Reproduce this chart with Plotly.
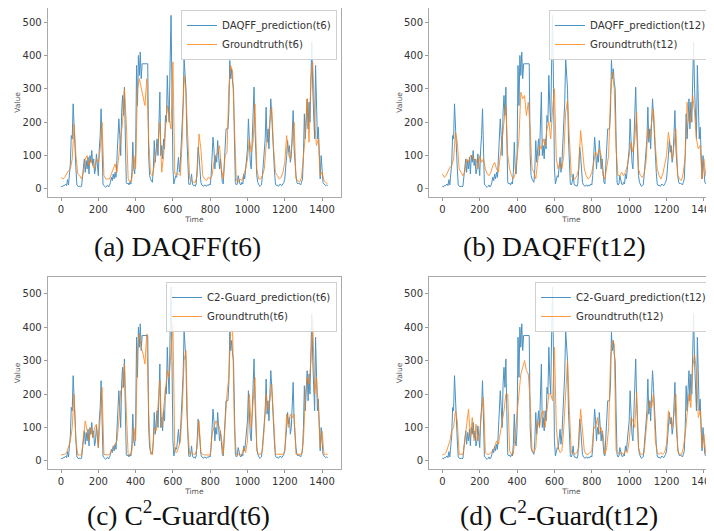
import plotly.graph_objects as go

# ---------------- data ----------------
time5 = list(range(0, 1431, 5))
time10 = list(range(0, 1431, 10))

prediction = [
    8, 6, 10, 9, 12, 15, 10, 28, 12, 40,
    75, 160, 150, 255, 170, 140, 60, 12, 8, 6,
    9, 7, 8, 30, 55, 90, 50, 85, 60, 95,
    45, 100, 80, 115, 70, 90, 45, 60, 105, 70,
    40, 120, 160, 240, 60, 15, 10, 8, 5, 8,
    12, 6, 10, 20, 35, 25, 45, 30, 50, 35,
    90, 130, 210, 160, 100, 230, 280, 220, 305, 150,
    20, 15, 18, 12, 20, 15, 50, 140, 60, 45,
    100, 370, 250, 400, 340, 410, 330, 375, 375, 375,
    375, 375, 375, 375, 100, 40, 30, 25, 20, 60,
    145, 80, 120, 150, 100, 180, 290, 100, 130, 90,
    150, 120, 220, 200, 340, 250, 200, 380, 520, 300,
    60, 15, 25, 40, 35, 60, 95, 50, 80, 140,
    200, 260, 390, 330, 300, 150, 40, 15, 12, 20,
    45, 15, 10, 12, 8, 15, 60, 125, 100, 60,
    20, 12, 10, 8, 12, 10, 8, 12, 10, 15,
    12, 40, 100, 155, 120, 60, 100, 80, 145, 100,
    60, 90, 40, 20, 15, 60, 100, 180, 180, 180,
    230, 385, 330, 360, 320, 300, 150, 20, 12, 15,
    40, 20, 15, 12, 20, 15, 45, 30, 60, 90,
    120, 210, 140, 80, 60, 150, 200, 305, 180, 100,
    40, 20, 12, 8, 10, 12, 40, 80, 100, 150,
    245, 140, 180, 120, 200, 270, 220, 150, 100, 50,
    15, 10, 12, 8, 10, 15, 12, 10, 15, 20,
    30, 60, 100, 145, 110, 130, 80, 100, 150, 235,
    120, 60, 40, 20, 15, 18, 15, 12, 20, 30,
    100, 225, 150, 200, 270, 180, 260, 200, 350, 440,
    300, 200, 150, 370, 250, 150, 185, 80, 30, 100,
    60, 20, 15, 12, 10, 12, 10,
]

truth_daqff_t6 = [
    35, 30, 35, 45, 55, 60, 90, 195, 100, 45,
    40, 30, 50, 90, 100, 70, 90, 70, 60, 90,
    80, 120, 200, 40, 30, 30, 30, 45, 60, 75,
    50, 100, 160, 200, 300, 200, 30, 20, 30, 100,
    60, 300, 330, 300, 270, 250, 330, 150, 45, 40,
    70, 110, 130, 200, 50, 100, 180, 250, 210, 180,
    380, 45, 45, 45, 40, 150, 340, 290, 150, 30,
    25, 20, 20, 40, 165, 120, 40, 30, 25, 35,
    30, 40, 80, 100, 110, 130, 60, 30, 100, 110,
    300, 370, 350, 150, 25, 20, 30, 25, 40, 60,
    90, 150, 110, 140, 255, 60, 30, 30, 40, 60,
    130, 150, 200, 245, 120, 50, 40, 30, 35, 50,
    80, 160, 100, 90, 140, 200, 30, 25, 20, 35,
    100, 160, 270, 140, 330, 380, 200, 130, 150, 40,
    50, 25, 20, 15,
]

truth_daqff_t12 = [
    45, 35, 40, 55, 65, 70, 90, 170, 140, 60,
    50, 40, 50, 90, 80, 100, 100, 85, 90, 60,
    100, 80, 90, 60, 45, 40, 50, 70, 80, 60,
    50, 100, 150, 200, 250, 100, 60, 40, 30, 45,
    100, 150, 290, 270, 280, 220, 260, 180, 60, 50,
    30, 80, 130, 120, 150, 130, 180, 200, 150, 240,
    300, 90, 60, 80, 60, 100, 230, 265, 150, 40,
    30, 30, 40, 60, 175, 120, 60, 40, 30, 35,
    50, 80, 110, 100, 120, 100, 40, 30, 60, 100,
    280, 350, 300, 120, 40, 40, 50, 40, 50, 70,
    100, 140, 110, 150, 230, 60, 40, 35, 45, 80,
    180, 150, 200, 240, 130, 60, 40, 30, 45, 70,
    100, 170, 120, 90, 130, 180, 40, 30, 25, 50,
    100, 260, 200, 200, 280, 230, 150, 120, 130, 30,
    90, 40, 30, 30,
]

truth_c2_t6 = [
    18, 18, 20, 25, 40, 60, 100, 200, 60, 18,
    18, 18, 70, 120, 90, 60, 100, 70, 100, 110,
    40, 150, 220, 20, 18, 18, 20, 30, 40, 50,
    60, 120, 210, 220, 290, 150, 18, 18, 30, 100,
    60, 330, 380, 340, 320, 290, 380, 150, 20, 20,
    100, 90, 180, 240, 100, 150, 210, 270, 250, 330,
    410, 30, 25, 40, 60, 150, 300, 330, 90, 20,
    25, 20, 20, 40, 120, 25, 20, 18, 18, 18,
    18, 80, 100, 120, 110, 100, 70, 18, 110, 200,
    250, 390, 390, 100, 18, 20, 18, 20, 40, 25,
    60, 200, 100, 180, 250, 30, 20, 20, 30, 100,
    200, 150, 180, 230, 100, 20, 20, 20, 20, 20,
    30, 140, 100, 140, 130, 140, 20, 20, 20, 20,
    60, 190, 250, 230, 300, 420, 200, 250, 160, 40,
    90, 20, 20, 20,
]

truth_c2_t12 = [
    18, 20, 25, 40, 60, 90, 100, 150, 120, 20,
    20, 20, 60, 100, 155, 70, 130, 60, 110, 60,
    80, 150, 190, 25, 20, 20, 25, 30, 40, 60,
    50, 80, 120, 150, 200, 200, 30, 20, 20, 80,
    120, 200, 260, 280, 300, 270, 260, 180, 30, 25,
    40, 120, 100, 140, 150, 100, 150, 200, 200, 180,
    340, 100, 40, 25, 30, 100, 200, 300, 150, 25,
    25, 20, 25, 40, 155, 100, 30, 20, 20, 25,
    30, 100, 100, 130, 80, 100, 80, 20, 40, 100,
    300, 360, 350, 30, 25, 20, 25, 20, 30, 25,
    60, 130, 120, 100, 205, 40, 20, 20, 25, 80,
    150, 180, 160, 200, 60, 25, 20, 25, 20, 25,
    50, 150, 120, 100, 140, 200, 30, 20, 20, 40,
    80, 130, 200, 160, 280, 320, 270, 130, 150, 40,
    80, 20, 20, 20,
]

panels = [
    ("DAQFF_prediction(t6)", "Groundtruth(t6)", truth_daqff_t6, "(a) DAQFF(t6)"),
    ("DAQFF_prediction(t12)", "Groundtruth(t12)", truth_daqff_t12, "(b) DAQFF(t12)"),
    ("C2-Guard_prediction(t6)", "Groundtruth(t6)", truth_c2_t6, "(c) C<sup>2</sup>-Guard(t6)"),
    ("C2-Guard_prediction(t12)", "Groundtruth(t12)", truth_c2_t12, "(d) C<sup>2</sup>-Guard(t12)"),
]

# ---------------- layout geometry (screen px, page body has 8px margin) ----------------
OFF = 8
W, H = 714 - OFF, 531 - OFF
BLUE = "#1f77b4"
ORANGE = "#ff7f0e"


def px(xs):
    return (xs - OFF) / W


def py(ys):
    return 1 - (ys - OFF) / H


x_domains = [(px(47.7), px(341)), (px(429), 1.0), (px(47.7), px(341)), (px(429), 1.0)]
y_domains = [(py(197), 1.0), (py(197), 1.0), (py(469), py(277)), (py(469), py(277))]
x_ranges = [[-71.5, 1501.5], [-71.5, 1454], [-71.5, 1501.5], [-71.5, 1454]]
y_ranges = [[-24, 542], [-24, 542], [-24, 550], [-24, 550]]
legend_pos = [
    dict(x=px(337), y=py(10), xanchor="right"),
    dict(x=px(712), y=py(10), xanchor="right"),
    dict(x=px(337), y=py(282), xanchor="right"),
    dict(x=px(712), y=py(282), xanchor="right"),
]
captions_xy = [(177, 247), (554, 247), (178, 513), (559, 513)]

fig = go.Figure()
layout = dict(
    width=W, height=H,
    margin=dict(l=0, r=0, t=0, b=0, autoexpand=False),
    paper_bgcolor="white", plot_bgcolor="white",
    font=dict(family="DejaVu Sans", color="#333333"),
    showlegend=True,
    annotations=[],
)

for i, (pname, tname, truth, caption) in enumerate(panels):
    k = "" if i == 0 else str(i + 1)
    lg = "legend" if i == 0 else f"legend{i + 1}"
    fig.add_trace(go.Scatter(
        x=time5, y=prediction, mode="lines", name=pname,
        line=dict(color=BLUE, width=1), opacity=0.8,
        xaxis="x" + k, yaxis="y" + k, legend=lg,
    ))
    fig.add_trace(go.Scatter(
        x=time10, y=truth, mode="lines", name=tname,
        line=dict(color=ORANGE, width=1), opacity=0.8,
        xaxis="x" + k, yaxis="y" + k, legend=lg,
    ))
    right_col = i in (1, 3)
    layout["xaxis" + k] = dict(
        domain=list(x_domains[i]), range=x_ranges[i], anchor="y" + k,
        tick0=0, dtick=200, ticks="outside", ticklen=3, tickcolor="#999999",
        showgrid=False, zeroline=False, ticklabeloverflow="allow",
        showline=True, linecolor="#aaaaaa", linewidth=1, mirror=True,
        tickfont=dict(size=10, color="#333333"),
        title=dict(text="Time", font=dict(size=7.5, color="#555555"), standoff=0),
    )
    layout["yaxis" + k] = dict(
        domain=list(y_domains[i]), range=y_ranges[i], anchor="x" + k,
        tick0=0, dtick=100, ticks="outside", ticklen=3, tickcolor="#999999",
        showgrid=False, zeroline=False,
        showline=True, linecolor="#aaaaaa", linewidth=1,
        mirror=False if right_col else True,
        tickfont=dict(size=10, color="#333333"),
        title=dict(text="Value", font=dict(size=7.5, color="#555555"), standoff=0),
    )
    layout[lg] = dict(
        **legend_pos[i], yanchor="top",
        bgcolor="rgba(255,255,255,0.85)", bordercolor="#d0d0d0", borderwidth=1,
        font=dict(size=10.2, color="#333333"), itemwidth=30, tracegroupgap=0,
    )
    cx, cy = captions_xy[i]
    layout["annotations"].append(dict(
        text=caption, x=px(cx), y=py(cy), xref="paper", yref="paper",
        xanchor="center", yanchor="middle", showarrow=False,
        font=dict(family="Liberation Serif", size=27.5, color="#111111"),
    ))

fig.update_layout(**layout)
fig.write_html("out.html")
